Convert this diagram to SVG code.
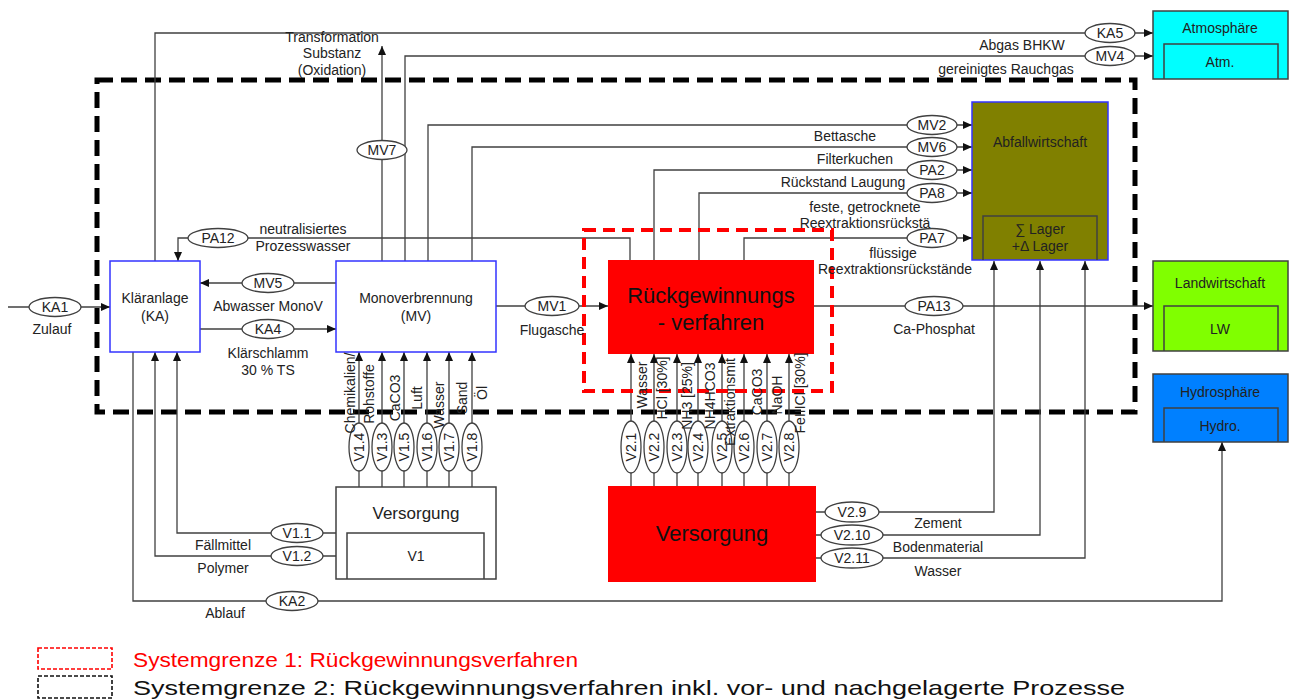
<svg xmlns="http://www.w3.org/2000/svg" width="1290" height="699" viewBox="0 0 1290 699">
<style>
text{font-family:"Liberation Sans",Arial,sans-serif;fill:#222;}
.l{font-size:14px;text-anchor:middle;}
.c{stroke:#404040;stroke-width:1.3;fill:none;}
.ca{stroke:#404040;stroke-width:1.3;fill:none;marker-end:url(#ah);}
.el{fill:#fff;stroke:#404040;stroke-width:1.3;}
.bx{stroke:#3333ff;stroke-width:1.5;}
.ob{stroke:#404040;stroke-width:1.5;}
</style>
<defs>
<marker id="ah" markerUnits="userSpaceOnUse" markerWidth="9" markerHeight="8" refX="9" refY="4" orient="auto">
<path d="M0,0 L9,4 L0,8 z" fill="#111"/>
</marker>
</defs>
<rect width="1290" height="699" fill="#fff"/>

<!-- system boundaries -->
<g id="boundary2"><rect x="97" y="80" width="1038" height="332" fill="none" stroke="#000" stroke-width="5" stroke-dasharray="16 8"/></g>

<g id="connectors">
<path class="ca" d="M8,307 H110"/>
<path class="ca" d="M155,261 V33 H1153"/>
<path class="ca" d="M405,261 V56 H1153"/>
<path class="ca" d="M382,261 V46"/>
<path class="ca" d="M428,261 V125 H972"/>
<path class="ca" d="M472,261 V147 H972"/>
<path class="ca" d="M654,260 V170 H972"/>
<path class="ca" d="M699,260 V193 H972"/>
<path class="ca" d="M744,260 V238 H972"/>
<path class="ca" d="M630,260 V238 H178 V261"/>
<path class="ca" d="M336,283 H200"/>
<path class="ca" d="M200,329 H336"/>
<path class="ca" d="M496,306 H608"/>
<path class="ca" d="M814,306 H1153"/>
<path class="ca" d="M359,487 V352"/>
<path class="ca" d="M382,487 V352"/>
<path class="ca" d="M404,487 V352"/>
<path class="ca" d="M427,487 V352"/>
<path class="ca" d="M449,487 V352"/>
<path class="ca" d="M472,487 V352"/>
<path class="ca" d="M631,486 V354"/>
<path class="ca" d="M654,486 V354"/>
<path class="ca" d="M677,486 V354"/>
<path class="ca" d="M698,486 V354"/>
<path class="ca" d="M722,486 V354"/>
<path class="ca" d="M744,486 V354"/>
<path class="ca" d="M767,486 V354"/>
<path class="ca" d="M789,486 V354"/>
<path class="ca" d="M336,533 H177 V352"/>
<path class="ca" d="M336,556 H155 V352"/>
<path class="ca" d="M133,352 V601 H1222 V442"/>
<path class="ca" d="M808,512 H994 V261"/>
<path class="ca" d="M808,535 H1040 V261"/>
<path class="ca" d="M808,558 H1085 V261"/>
</g>

<g id="boundary1"><rect x="584" y="230" width="248" height="161" fill="none" stroke="#ff0000" stroke-width="4" stroke-dasharray="12 7"/></g>

<!-- nodes -->
<g id="klaeranlage"><rect class="bx" x="110" y="261" width="90" height="91" fill="#fff"/>
<text class="l" x="155" y="303">Kläranlage</text><text class="l" x="155" y="321">(KA)</text></g>
<g id="monoverbrennung"><rect class="bx" x="336" y="261" width="160" height="91" fill="#fff"/>
<text class="l" x="416" y="303">Monoverbrennung</text><text class="l" x="416" y="321">(MV)</text></g>
<g id="rueckgewinnung"><rect x="608" y="260" width="206" height="94" fill="#ff0000"/>
<text x="711" y="303" style="font-size:22px;text-anchor:middle;fill:#111">Rückgewinnungs</text>
<text x="711" y="330" style="font-size:22px;text-anchor:middle;fill:#111">- verfahren</text></g>
<g id="abfallwirtschaft"><rect class="bx" x="972" y="102" width="136" height="158" fill="#808000"/>
<path class="ob" d="M983,260 V216 H1097 V260" fill="none"/>
<text class="l" x="1040" y="147">Abfallwirtschaft</text>
<text class="l" x="1040" y="234">∑ Lager</text><text class="l" x="1040" y="251">+Δ Lager</text></g>
<g id="atmosphaere"><rect class="ob" x="1153" y="11" width="135" height="68" fill="#00ffff"/>
<path class="ob" d="M1164,79 V44 H1278 V79" fill="none"/>
<text class="l" x="1220" y="33">Atmosphäre</text><text class="l" x="1220" y="67">Atm.</text></g>
<g id="landwirtschaft"><rect class="ob" x="1153" y="261" width="135" height="90" fill="#80ff00"/>
<path class="ob" d="M1164,351 V306 H1278 V351" fill="none"/>
<text class="l" x="1220" y="288">Landwirtschaft</text><text class="l" x="1220" y="334">LW</text></g>
<g id="hydrosphaere"><rect class="ob" x="1153" y="374" width="135" height="68" fill="#0080ff"/>
<path class="ob" d="M1164,442 V408 H1278 V442" fill="none"/>
<text class="l" x="1220" y="397">Hydrosphäre</text><text class="l" x="1220" y="431">Hydro.</text></g>
<g id="versorgung1"><rect class="ob" x="336" y="487" width="160" height="92" fill="#fff"/>
<path class="ob" d="M347,579 V533 H484 V579" fill="none"/>
<text x="416" y="519" style="font-size:17px;text-anchor:middle">Versorgung</text>
<text class="l" x="416" y="561">V1</text></g>
<g id="versorgung2"><rect x="608" y="486" width="208" height="96" fill="#ff0000"/>
<text x="712" y="541" style="font-size:22px;text-anchor:middle;fill:#111">Versorgung</text></g>

<!-- flow labels -->
<g id="flow-labels">
<ellipse class="el" cx="55" cy="307" rx="26" ry="9.5"/><text class="l" x="55" y="312">KA1</text>
<ellipse class="el" cx="1110" cy="33" rx="25" ry="9.5"/><text class="l" x="1110" y="38">KA5</text>
<ellipse class="el" cx="1110" cy="56" rx="25" ry="9.5"/><text class="l" x="1110" y="61">MV4</text>
<ellipse class="el" cx="382" cy="150" rx="25" ry="9.5"/><text class="l" x="382" y="155">MV7</text>
<ellipse class="el" cx="932" cy="125" rx="25" ry="9.5"/><text class="l" x="932" y="130">MV2</text>
<ellipse class="el" cx="932" cy="147" rx="25" ry="9.5"/><text class="l" x="932" y="152">MV6</text>
<ellipse class="el" cx="932" cy="170" rx="25" ry="9.5"/><text class="l" x="932" y="175">PA2</text>
<ellipse class="el" cx="932" cy="193" rx="25" ry="9.5"/><text class="l" x="932" y="198">PA8</text>
<ellipse class="el" cx="932" cy="238" rx="25" ry="9.5"/><text class="l" x="932" y="243">PA7</text>
<ellipse class="el" cx="218" cy="238" rx="30" ry="9.5"/><text class="l" x="218" y="243">PA12</text>
<ellipse class="el" cx="268" cy="283" rx="26" ry="9.5"/><text class="l" x="268" y="288">MV5</text>
<ellipse class="el" cx="268" cy="329" rx="26" ry="9.5"/><text class="l" x="268" y="334">KA4</text>
<ellipse class="el" cx="552" cy="306" rx="27" ry="9.5"/><text class="l" x="552" y="311">MV1</text>
<ellipse class="el" cx="934" cy="306" rx="29" ry="9.5"/><text class="l" x="934" y="311">PA13</text>
<ellipse class="el" cx="297" cy="533" rx="26" ry="9.5"/><text class="l" x="297" y="538">V1.1</text>
<ellipse class="el" cx="297" cy="556" rx="26" ry="9.5"/><text class="l" x="297" y="561">V1.2</text>
<ellipse class="el" cx="292" cy="601" rx="26" ry="9.5"/><text class="l" x="292" y="606">KA2</text>
<ellipse class="el" cx="852" cy="512" rx="27" ry="10"/><text class="l" x="852" y="517">V2.9</text>
<ellipse class="el" cx="852" cy="535" rx="31" ry="10"/><text class="l" x="852" y="540">V2.10</text>
<ellipse class="el" cx="852" cy="558" rx="31" ry="10"/><text class="l" x="852" y="563">V2.11</text>

<ellipse class="el" cx="359" cy="447" rx="10" ry="24"/><text class="l" transform="translate(364,447) rotate(-90)">V1.4</text>
<ellipse class="el" cx="382" cy="447" rx="10" ry="24"/><text class="l" transform="translate(387,447) rotate(-90)">V1.3</text>
<ellipse class="el" cx="404" cy="447" rx="10" ry="24"/><text class="l" transform="translate(409,447) rotate(-90)">V1.5</text>
<ellipse class="el" cx="427" cy="447" rx="10" ry="24"/><text class="l" transform="translate(432,447) rotate(-90)">V1.6</text>
<ellipse class="el" cx="449" cy="447" rx="10" ry="24"/><text class="l" transform="translate(454,447) rotate(-90)">V1.7</text>
<ellipse class="el" cx="472" cy="447" rx="10" ry="24"/><text class="l" transform="translate(477,447) rotate(-90)">V1.8</text>

<ellipse class="el" cx="631" cy="447" rx="10" ry="26"/><text class="l" transform="translate(636,447) rotate(-90)">V2.1</text>
<ellipse class="el" cx="654" cy="447" rx="10" ry="26"/><text class="l" transform="translate(659,447) rotate(-90)">V2.2</text>
<ellipse class="el" cx="677" cy="447" rx="10" ry="26"/><text class="l" transform="translate(682,447) rotate(-90)">V2.3</text>
<ellipse class="el" cx="698" cy="447" rx="10" ry="26"/><text class="l" transform="translate(703,447) rotate(-90)">V2.4</text>
<ellipse class="el" cx="722" cy="447" rx="10" ry="26"/><text class="l" transform="translate(727,447) rotate(-90)">V2.5</text>
<ellipse class="el" cx="744" cy="447" rx="10" ry="26"/><text class="l" transform="translate(749,447) rotate(-90)">V2.6</text>
<ellipse class="el" cx="767" cy="447" rx="10" ry="26"/><text class="l" transform="translate(772,447) rotate(-90)">V2.7</text>
<ellipse class="el" cx="789" cy="447" rx="10" ry="26"/><text class="l" transform="translate(794,447) rotate(-90)">V2.8</text>
</g>

<!-- flow texts -->
<g id="flow-texts">
<text class="l" x="52" y="334">Zulauf</text>
<text class="l" x="268" y="311">Abwasser MonoV</text>
<text class="l" x="268" y="358">Klärschlamm</text>
<text class="l" x="268" y="375">30 % TS</text>
<text class="l" x="303" y="234">neutralisiertes</text>
<text class="l" x="303" y="251">Prozesswasser</text>
<text class="l" x="332" y="42">Transformation</text>
<text class="l" x="332" y="58">Substanz</text>
<text class="l" x="332" y="75">(Oxidation)</text>
<text class="l" x="1022" y="50">Abgas BHKW</text>
<text class="l" x="1006" y="74">gereinigtes Rauchgas</text>
<text class="l" x="845" y="141">Bettasche</text>
<text class="l" x="855" y="164">Filterkuchen</text>
<text class="l" x="843" y="187">Rückstand Laugung</text>
<text class="l" x="865" y="212">feste, getrocknete</text>
<text class="l" x="865" y="228">Reextraktionsrückstä</text>
<text class="l" x="893" y="258">flüssige</text>
<text class="l" x="895" y="274">Reextraktionsrückstände</text>
<text class="l" x="552" y="335">Flugasche</text>
<text class="l" x="934" y="334">Ca-Phosphat</text>
<text class="l" x="223" y="550">Fällmittel</text>
<text class="l" x="223" y="573">Polymer</text>
<text class="l" x="225" y="618">Ablauf</text>
<text class="l" x="938" y="528">Zement</text>
<text class="l" x="938" y="552">Bodenmaterial</text>
<text class="l" x="938" y="576">Wasser</text>

<text class="l" transform="translate(355,393) rotate(-90)">Chemikalien/</text>
<text class="l" transform="translate(374,394) rotate(-90)">Rohstoffe</text>
<text class="l" transform="translate(400,398) rotate(-90)">CaCO3</text>
<text class="l" transform="translate(422,398) rotate(-90)">Luft</text>
<text class="l" transform="translate(444,405) rotate(-90)">Wasser</text>
<text class="l" transform="translate(467,398) rotate(-90)">Sand</text>
<text class="l" transform="translate(487,393) rotate(-90)">Öl</text>

<text class="l" transform="translate(647,385) rotate(-90)">Wasser</text>
<text class="l" transform="translate(667,388) rotate(-90)">HCl [30%]</text>
<text class="l" transform="translate(692,396) rotate(-90)">NH3 [25%]</text>
<text class="l" transform="translate(715,396) rotate(-90)">NH4HCO3</text>
<text class="l" transform="translate(735,402) rotate(-90)">Extraktionsmit</text>
<text class="l" transform="translate(762,392) rotate(-90)">CaCO3</text>
<text class="l" transform="translate(782,395) rotate(-90)">NaOH</text>
<text class="l" transform="translate(805,393) rotate(-90)">FeIIICl [30%]</text>
</g>

<!-- legend -->
<g id="legend">
<rect x="38" y="648" width="74" height="21" fill="none" stroke="#ff0000" stroke-width="1.6" stroke-dasharray="4 2"/>
<rect x="38" y="676" width="74" height="22" fill="none" stroke="#111" stroke-width="1.6" stroke-dasharray="4 2"/>
<text x="133" y="667" style="font-size:21px;fill:#ff0000" textLength="445" lengthAdjust="spacingAndGlyphs">Systemgrenze 1: Rückgewinnungsverfahren</text>
<text x="133" y="695" style="font-size:21px;fill:#111" textLength="992" lengthAdjust="spacingAndGlyphs">Systemgrenze 2: Rückgewinnungsverfahren inkl. vor- und nachgelagerte Prozesse</text>
</g>
</svg>
